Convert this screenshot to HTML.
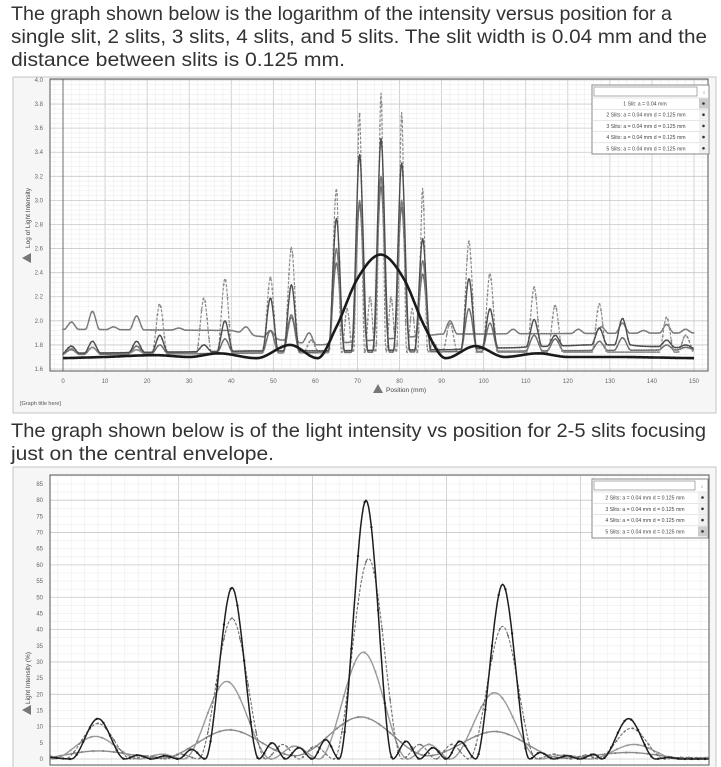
<!DOCTYPE html>
<html><head><meta charset="utf-8">
<style>
html,body{margin:0;padding:0;background:#fff;}
svg{display:block;font-family:"Liberation Sans",sans-serif;}
</style></head>
<body>
<svg id="page" width="721" height="767" viewBox="0 0 721 767">
  <g fill="#333" font-size="19.4">
    <text x="11" y="20" textLength="661" lengthAdjust="spacingAndGlyphs">The graph shown below is the logarithm of the intensity versus position for a</text>
    <text x="11" y="43" textLength="696" lengthAdjust="spacingAndGlyphs">single slit, 2 slits, 3 slits, 4 slits, and 5 slits. The slit width is 0.04 mm and the</text>
    <text x="11" y="66" textLength="334" lengthAdjust="spacingAndGlyphs">distance between slits is 0.125 mm.</text>
  </g>
  <rect x="13" y="77" width="703" height="336" fill="#f6f6f6" stroke="#c4c4c4"/>
  <rect x="50" y="79" width="658" height="292" fill="#fff" stroke="#555"/>
  <g id="topGrid"></g>
  <g id="topAxes"></g>
  <g id="topSeries"></g>
  <rect x="50" y="79" width="658" height="292" fill="none" stroke="#555"/>
  <g>
    <path d="M373 393 L378 384 L383 393 Z" fill="#777"/>
    <text x="386" y="392" font-size="6.5" fill="#444">Position (mm)</text>
  </g>
  <g>
    <path d="M22 258 L31 253 L31 263 Z" fill="#777"/>
    <text transform="translate(30,248) rotate(-90)" font-size="6.5" fill="#444">Log of Light Intensity</text>
  </g>
  <text x="20" y="405" font-size="5.5" fill="#555">[Graph title here]</text>
  <g id="topLegend"></g>

  <g fill="#333" font-size="19.4">
    <text x="11" y="437" textLength="695" lengthAdjust="spacingAndGlyphs">The graph shown below is of the light intensity vs position for 2-5 slits focusing</text>
    <text x="11" y="460" textLength="263" lengthAdjust="spacingAndGlyphs">just on the central envelope.</text>
  </g>
  <rect x="13" y="467" width="703" height="310" fill="#f6f6f6" stroke="#c4c4c4"/>
  <rect x="50" y="475" width="659" height="290" fill="#fff" stroke="#555"/>
  <g id="botGrid"></g>
  <g id="botAxes"></g>
  <g id="botSeries"></g>
  <rect x="50" y="475" width="659" height="290" fill="none" stroke="#555"/>
  <g>
    <path d="M22 710 L31 705 L31 715 Z" fill="#777"/>
    <text transform="translate(30,704) rotate(-90)" font-size="6.5" fill="#444">Light Intensity (%)</text>
  </g>
  <g id="botLegend"></g>
</svg>
<script>
// ---------- TOP CHART DATA (log intensity) ----------
const topXTicks = [0,10,20,30,40,50,60,70,80,90,100,110,120,130,140,150];
const topYTicks = [1.6,1.8,2.0,2.2,2.4,2.6,2.8,3.0,3.2,3.4,3.6,3.8,4.0];
const topYLabels = ["1.6","1.8","2.0","2.2","2.4","2.6","2.8","3.0","3.2","3.4","3.6","3.8","4.0"];
// 1 slit
const s1X = [0,10,22,30,37,46,54,60.5,65,70,75.5,81,86,91,98,105,113,120,130,150];
const s1Y = [1.69,1.70,1.715,1.70,1.73,1.69,1.80,1.69,1.95,2.35,2.55,2.35,1.95,1.69,1.79,1.70,1.73,1.70,1.70,1.69];
// 2 slits (upper line)
const s2PeakX = [2,7,12,17.5,27.5,43.5,49.3,54.3,58.5,65,70.5,75.6,80.5,85.5,92,107,122.5,128,133,138,143.5,148];
const s2PeakY = [1.99,2.08,1.95,2.04,1.94,1.95,1.92,2.05,1.9,2.6,3.0,3.2,3.0,2.5,2.0,1.93,1.93,1.95,1.98,1.92,1.97,1.93];
const s2BaseX = [0,40,47,60,90,150];
const s2BaseY = [1.93,1.92,1.87,1.80,1.89,1.90];
// 3 slits
const s3PeakX = [2,7,17.5,23,38.5,49.3,54.3,65,70.5,75.6,80.5,85.5,96.5,101.5,112,117,127.5,133,143.5,148];
const s3PeakY = [1.76,1.78,1.79,1.80,1.85,1.92,2.03,2.48,2.97,3.11,2.94,2.39,2.10,1.98,1.88,1.85,1.83,1.86,1.80,1.78];
const s3BaseX = [0,150];
const s3BaseY = [1.72,1.76];
// 4 slits
const s4PeakX = [2,7,17.5,23,33.5,38.5,49.3,54.3,65,70.5,75.6,80.5,85.5,96.5,101.5,112,117,127.5,133,143.5,148];
const s4PeakY = [1.79,1.83,1.83,1.88,1.80,2.00,2.19,2.30,2.85,3.38,3.51,3.31,2.68,2.35,2.10,2.01,1.88,1.94,2.02,1.84,1.80];
const s4BaseX = [0,45,60,90,125,135,150];
const s4BaseY = [1.73,1.75,1.75,1.76,1.80,1.80,1.77];
// 5 slits (tallest)
const s5PeakX = [2,7,17.5,23,33.5,38.5,49.3,54.3,59,65,67.5,70.5,73,75.6,78,80.5,83,85.5,88,92,96.5,101.5,112,117,127.5,143.5,148];
const s5PeakY = [1.77,1.78,1.76,2.14,2.19,2.35,2.36,2.61,1.84,3.10,2.1,3.72,2.2,3.89,2.2,3.73,2.1,3.10,1.82,1.98,2.66,2.39,2.28,2.13,2.14,2.03,1.88];
const s5BaseX = [0,60,150];
const s5BaseY = [1.73,1.74,1.74];
const topLegendLabels = ["1 Slit: a = 0.04 mm","2 Slits: a = 0.04 mm d = 0.125 mm","3 Slits: a = 0.04 mm d = 0.125 mm","4 Slits: a = 0.04 mm d = 0.125 mm","5 Slits: a = 0.04 mm d = 0.125 mm"];

// ---------- BOTTOM CHART DATA (linear intensity) ----------
const botYTicks = [0,5,10,15,20,25,30,35,40,45,50,55,60,65,70,75,80,85];
const b5X = [63.7,64.5,65.5,66.5,67,67.5,68,68.5,69,69.5,70.5,71.5,72,72.5,73,73.5,74,74.5,75.5,76.5,77,77.5,78,78.5,79,79.6,80.6,81.6,82,82.5,83,83.5,84,84.3,85.3,86.3,86.8,87.3,88.3];
const b5Y = [0.5,0,12.5,0,1.2,0,1,0,3,0,53,0,5,0,3.5,0,6,0,80,0,5.5,0,3.5,0,5.5,0,54,0,2,0,1,0,1.5,0,12.5,0,0.5,0,0];
const b4X = [63.7,64.25,65.5,66.75,67.4,68,68.6,69.25,70.5,71.75,72.4,73,73.6,74.3,75.6,76.85,77.5,78.1,78.7,79.35,80.6,81.85,82.5,83.1,83.7,84.15,85.4,86.65,87.3,88.3];
const b4Y = [1,0,11,0,1,0,1.5,0,43.5,0,4.5,0,4,0,62,0,4.5,0,4.5,0,41,0,1.5,0,1.2,0,9.5,0,0.5,0.2];
const b3X = [63.7,63.8,65.4,67.05,67.9,68.7,70.3,71.95,72.85,73.75,75.4,77.05,77.85,78.65,80.3,81.95,82.9,83.85,85.5,87.15,88.3];
const b3Y = [0.3,0,7,0,1.5,0,24,0,4,0,33,0,4.5,0,20.5,0,1.2,0,4.5,0,0.5];
const b2X = [63.7,65.5,67.9,70.4,72.85,75.3,77.8,80.3,82.8,85.3,87.8,88.3];
const b2Y = [0.5,2.5,0.3,9,1,13,1,8.5,0.3,2,0,0.3];
const botLegendLabels = ["2 Slits: a = 0.04 mm d = 0.125 mm","3 Slits: a = 0.04 mm d = 0.125 mm","4 Slits: a = 0.04 mm d = 0.125 mm","5 Slits: a = 0.04 mm d = 0.125 mm"];

const NS = "http://www.w3.org/2000/svg";
function mk(tag, attrs, parent){
  const e = document.createElementNS(NS, tag);
  for (const k in attrs) e.setAttribute(k, attrs[k]);
  if (parent) parent.appendChild(e);
  return e;
}
const tx = v => 63 + v*4.2067;
const ty = v => 369 - (v-1.6)*120.42;
const bx = v => 366 + (v-75.5)*26.8;
const by = v => 759 - v*3.235;

function interp(xs, ys, x){
  if (x <= xs[0]) return ys[0];
  for (let i=1;i<xs.length;i++) if (x <= xs[i]) {
    const t=(x-xs[i-1])/(xs[i]-xs[i-1]); return ys[i-1]+t*(ys[i]-ys[i-1]);
  }
  return ys[ys.length-1];
}
function monotone(xs, ys, step){
  const n=xs.length, d=[], m=new Array(n);
  for (let i=0;i<n-1;i++) d.push((ys[i+1]-ys[i])/(xs[i+1]-xs[i]));
  m[0]=d[0]; m[n-1]=d[n-2];
  for (let i=1;i<n-1;i++) m[i] = (d[i-1]*d[i] <= 0) ? 0 : (d[i-1]+d[i])/2;
  for (let i=0;i<n-1;i++){
    if (d[i]===0){m[i]=0;m[i+1]=0;continue;}
    const a=m[i]/d[i], b=m[i+1]/d[i], s=a*a+b*b;
    if (s>9){const t=3/Math.sqrt(s); m[i]=t*a*d[i]; m[i+1]=t*b*d[i];}
  }
  const out=[];
  for (let i=0;i<n-1;i++){
    const h=xs[i+1]-xs[i], k=Math.max(1,Math.ceil(h/step));
    for (let j=0;j<k;j++){
      const t=j/k, t2=t*t, t3=t2*t;
      const y=(2*t3-3*t2+1)*ys[i]+(t3-2*t2+t)*h*m[i]+(-2*t3+3*t2)*ys[i+1]+(t3-t2)*h*m[i+1];
      out.push([xs[i]+t*h, y]);
    }
  }
  out.push([xs[n-1], ys[n-1]]);
  return out;
}
function buildPeaks(px, py, bxs, bys, w){
  const pts=[];
  for (let i=0;i<px.length;i++){
    const wl = Math.min(w, i>0 ? (px[i]-px[i-1])*0.48 : w);
    const wr = Math.min(w, i<px.length-1 ? (px[i+1]-px[i])*0.48 : w);
    pts.push([px[i]-wl, interp(bxs,bys,px[i]-wl)]);
    pts.push([px[i], py[i]]);
    pts.push([px[i]+wr, interp(bxs,bys,px[i]+wr)]);
  }
  for (let i=0;i<bxs.length;i++){
    const x=bxs[i];
    if (!px.some(p=>Math.abs(p-x)<w+0.3)) pts.push([x, bys[i]]);
  }
  pts.sort((a,b)=>a[0]-b[0]);
  const xs=[], ys=[];
  pts.forEach(p=>{ if (!xs.length || p[0]-xs[xs.length-1]>0.01){xs.push(p[0]); ys.push(p[1]);} });
  return [xs, ys];
}
function drawSeries(parent, samples, fx, fy, color, width, dash, name, markEvery, mr){
  const g = mk("g", {}, parent);
  
  
  const d = samples.map((p,i)=>(i?"L":"M")+fx(p[0]).toFixed(1)+" "+fy(p[1]).toFixed(1)).join("");
  const path = mk("path", {d:d, fill:"none", stroke:color, "stroke-width":width, "stroke-linejoin":"round"}, g);
  if (dash) path.setAttribute("stroke-dasharray", dash);
  
  
  if (markEvery){
    for (let i=0;i<samples.length;i+=markEvery){
      const c = mk("circle", {cx:fx(samples[i][0]).toFixed(1), cy:fy(samples[i][1]).toFixed(1), r:mr, fill:color}, g);
      
      
    }
  }
}

// ---------- TOP GRID / AXES ----------
const tg = document.getElementById("topGrid");
for (let v=-2; v<=153; v+=2){
  const x=tx(v); if (x<50||x>708) continue;
  const major = v%10===0;
  const l = mk("line",{x1:x,x2:x,y1:79,y2:371,stroke:major?"#c8c8c8":"#ececec","stroke-width":major?0.8:0.6},tg);
  
  
}
for (let k=0;k<=60;k++){
  const v=1.6+k*0.04, y=ty(v);
  const major = k%5===0;
  const l = mk("line",{x1:50,x2:708,y1:y,y2:y,stroke:major?"#c8c8c8":"#ececec","stroke-width":major?0.8:0.6},tg);
  
  
}
const tax = document.getElementById("topAxes");
mk("line",{x1:tx(0),x2:tx(0),y1:79,y2:371,stroke:"#555","stroke-width":0.8},tax);
topXTicks.forEach(v=>{
  const t = mk("text",{x:tx(v),y:383,"font-size":6,fill:"#666","text-anchor":"middle"},tax);
  t.textContent = v;
  
  
});
topYTicks.forEach((v,i)=>{
  const t = mk("text",{x:43,y:ty(v)+2,"font-size":6,fill:"#666","text-anchor":"end"},tax);
  t.textContent = topYLabels[i];
  
  
});

// ---------- TOP SERIES ----------
const ts = document.getElementById("topSeries");
const clipT = mk("clipPath",{id:"clipTop"},document.getElementById("page"));
mk("rect",{x:50,y:79,width:658,height:292},clipT);
ts.setAttribute("clip-path","url(#clipTop)");
let sp;
sp = buildPeaks(s2PeakX,s2PeakY,s2BaseX,s2BaseY,1.7);
drawSeries(ts, monotone(sp[0],sp[1],0.15), tx, ty, "#7a7a7a", 1.4, null, "series-2-slits", 4, 0.9);
sp = buildPeaks(s3PeakX,s3PeakY,s3BaseX,s3BaseY,2.0);
drawSeries(ts, monotone(sp[0],sp[1],0.15), tx, ty, "#6e6e6e", 1.4, null, "series-3-slits", 4, 0.9);
sp = buildPeaks(s5PeakX,s5PeakY,s5BaseX,s5BaseY,1.8);
drawSeries(ts, monotone(sp[0],sp[1],0.15), tx, ty, "#8c8c8c", 1.2, "3 1.5", "series-5-slits", 3, 1.0);
sp = buildPeaks(s4PeakX,s4PeakY,s4BaseX,s4BaseY,1.9);
drawSeries(ts, monotone(sp[0],sp[1],0.15), tx, ty, "#4e4e4e", 1.4, null, "series-4-slits", 4, 0.9);
drawSeries(ts, monotone(s1X,s1Y,0.2), tx, ty, "#1a1a1a", 2.6, null, "series-1-slit", 0, 0);

// ---------- TOP LEGEND ----------
const tl = document.getElementById("topLegend");
mk("rect",{x:592,y:85,width:117,height:69,fill:"#fff",stroke:"#888"},tl);
const ti = mk("rect",{x:594,y:87,width:103,height:9,fill:"#fff",stroke:"#777","stroke-width":0.6},tl);


mk("text",{x:704,y:94,"font-size":5,fill:"#555","text-anchor":"middle"},tl).textContent="↕";
topLegendLabels.forEach((lab,i)=>{
  const y=98+i*11.2;
  const g = mk("g",{},tl);
  
  
  mk("line",{x1:592,x2:709,y1:y,y2:y,stroke:"#ccc","stroke-width":0.5},g);
  mk("rect",{x:699,y:y+0.5,width:9,height:10,fill:i===0?"#ccc":"#f0f0f0"},g);
  const t = mk("text",{x:i===0?645:646,y:y+7.5,"font-size":5.2,fill:"#444","text-anchor":"middle"},g);
  t.textContent = lab;
  mk("circle",{cx:703.5,cy:y+5.5,r:1.3,fill:"#333"},g);
});

// ---------- BOTTOM GRID / AXES ----------
const bg = document.getElementById("botGrid");
for (let k=-40;k<=60;k++){
  const v=63.5+k*0.5, x=bx(v); if (x<50||x>709) continue;
  const major = ((k%10)+10)%10===0;
  const l = mk("line",{x1:x,x2:x,y1:475,y2:765,stroke:major?"#c8c8c8":"#ececec","stroke-width":major?0.8:0.6},bg);
  
  
}
for (let v=0; v<=87.5; v+=2.5){
  const y=by(v);
  const major = v%10===0;
  const l = mk("line",{x1:50,x2:709,y1:y,y2:y,stroke:major?"#c8c8c8":"#ececec","stroke-width":major?0.8:0.6},bg);
  
  
}
const bax = document.getElementById("botAxes");
botYTicks.forEach(v=>{
  const t = mk("text",{x:43,y:by(v)+2,"font-size":6,fill:"#666","text-anchor":"end"},bax);
  t.textContent = v;
  
  
});

// ---------- BOTTOM SERIES ----------
const bs = document.getElementById("botSeries");
const clipB = mk("clipPath",{id:"clipBot"},document.getElementById("page"));
mk("rect",{x:50,y:475,width:659,height:290},clipB);
bs.setAttribute("clip-path","url(#clipBot)");
drawSeries(bs, monotone(b2X,b2Y,0.05), bx, by, "#8a8a8a", 1.4, null, "bottom-series-2-slits", 8, 1.1);
drawSeries(bs, monotone(b3X,b3Y,0.05), bx, by, "#9a9a9a", 1.4, null, "bottom-series-3-slits", 8, 1.1);
drawSeries(bs, monotone(b4X,b4Y,0.05), bx, by, "#707070", 1.1, "3 1.5", "bottom-series-4-slits", 6, 1.0);
drawSeries(bs, monotone(b5X,b5Y,0.05), bx, by, "#1e1e1e", 1.5, null, "bottom-series-5-slits", 5, 1.2);

// ---------- BOTTOM LEGEND ----------
const bl = document.getElementById("botLegend");
mk("rect",{x:592,y:479,width:116,height:59,fill:"#fff",stroke:"#888"},bl);
const bi = mk("rect",{x:594,y:481,width:101,height:9,fill:"#fff",stroke:"#777","stroke-width":0.6},bl);


mk("text",{x:702,y:488,"font-size":5,fill:"#555","text-anchor":"middle"},bl).textContent="↕";
botLegendLabels.forEach((lab,i)=>{
  const y=492+i*11.3;
  const g = mk("g",{},bl);
  
  
  mk("line",{x1:592,x2:708,y1:y,y2:y,stroke:"#ccc","stroke-width":0.5},g);
  mk("rect",{x:698,y:y+0.5,width:9,height:10,fill:i===3?"#ccc":"#f0f0f0"},g);
  const t = mk("text",{x:645,y:y+7.5,"font-size":5.2,fill:"#444","text-anchor":"middle"},g);
  t.textContent = lab;
  mk("circle",{cx:702.5,cy:y+5.5,r:1.3,fill:"#333"},g);
});
</script>
</body></html>
